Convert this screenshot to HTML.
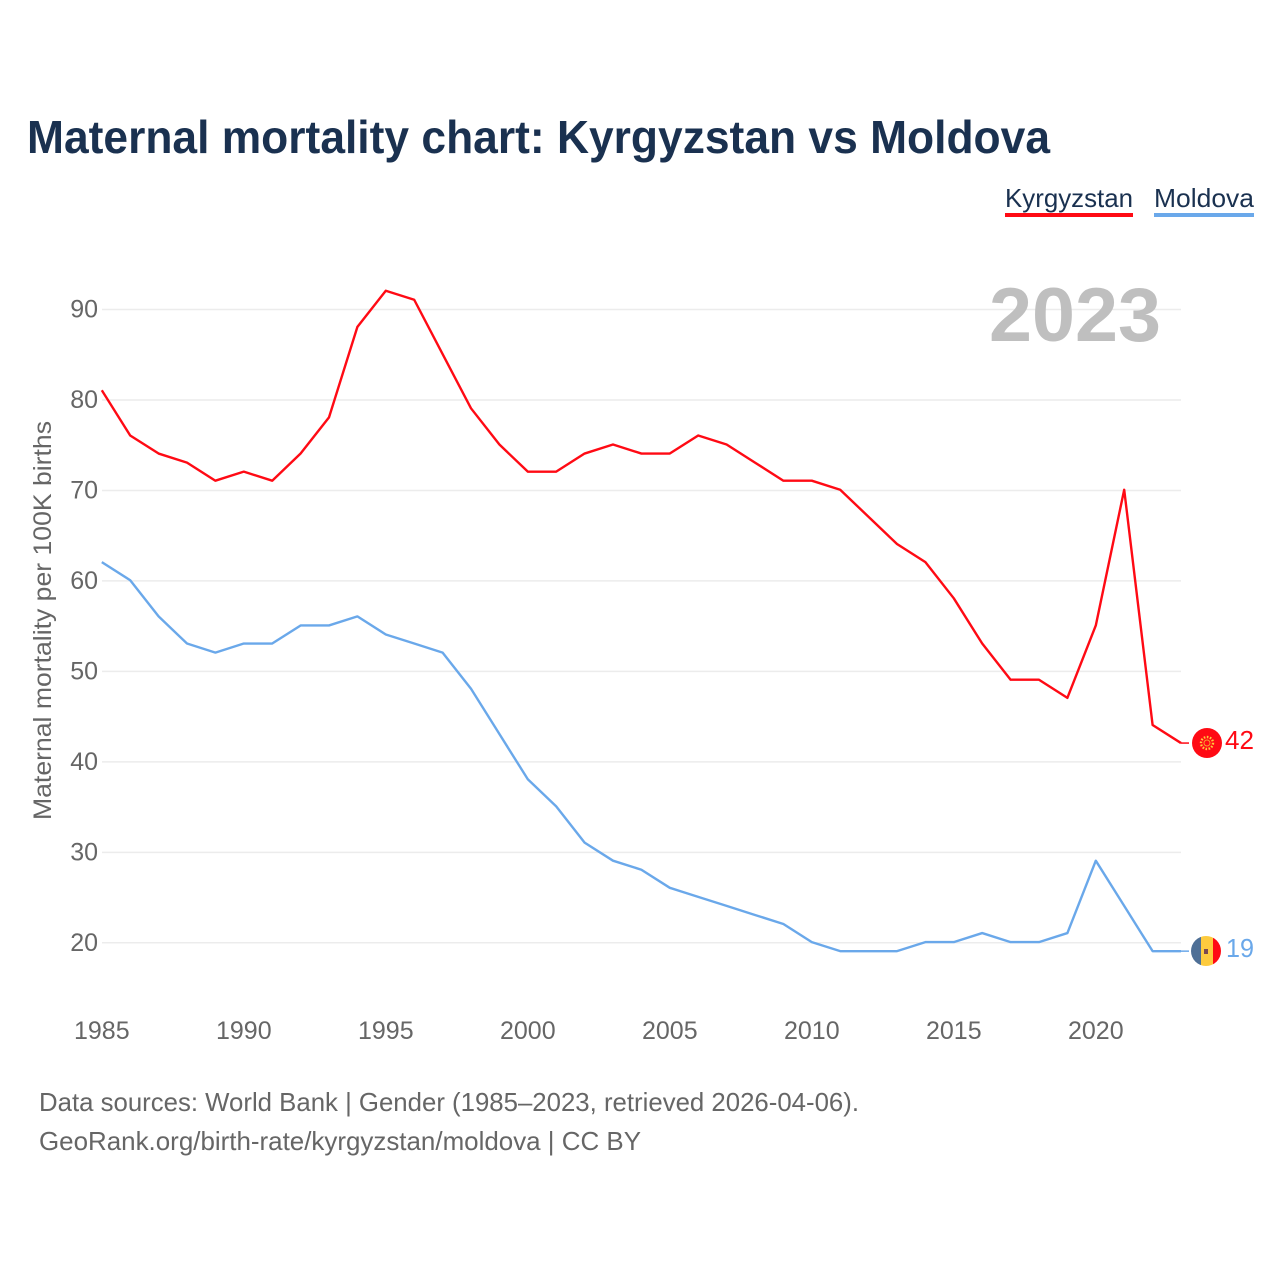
<!DOCTYPE html>
<html lang="en">
<head>
<meta charset="utf-8">
<title>Maternal mortality chart: Kyrgyzstan vs Moldova</title>
<style>
html,body{margin:0;padding:0;background:#fff}
svg{display:block}
text{font-family:"Liberation Sans",sans-serif}
</style>
</head>
<body>
<svg id="chart" width="1280" height="1280" viewBox="0 0 1280 1280" xmlns="http://www.w3.org/2000/svg">
  <rect width="1280" height="1280" fill="#fff"/>
  <text x="27" y="153" font-size="46" font-weight="700" fill="#1a3150" textLength="1023" lengthAdjust="spacingAndGlyphs">Maternal mortality chart: Kyrgyzstan vs Moldova</text>

  <g>
    <text x="1005" y="207" font-size="26" fill="#1a3150" textLength="128" lengthAdjust="spacingAndGlyphs">Kyrgyzstan</text>
    <rect x="1005" y="213" width="128" height="4" fill="#ff0a14"/>
  </g>
  <g>
    <text x="1154" y="207" font-size="26" fill="#1a3150" textLength="100" lengthAdjust="spacingAndGlyphs">Moldova</text>
    <rect x="1154" y="213" width="100" height="4" fill="#6aa8ea"/>
  </g>

  <g id="grid"></g>
  <g id="yticks"></g>
  <g id="xticks"></g>

  <text x="1161" y="341" text-anchor="end" font-size="76" font-weight="700" fill="#bfbfbf" textLength="172" lengthAdjust="spacingAndGlyphs">2023</text>

  <text transform="translate(51,820) rotate(-90)" font-size="25" fill="#666" textLength="399" lengthAdjust="spacingAndGlyphs">Maternal mortality per 100K births</text>

  <g id="series"></g>

  <g id="flag-kg">
    <circle cx="1207" cy="743" r="15" fill="#ff0a14"/>
    <circle cx="1207" cy="743" r="6" fill="none" stroke="#ffc83c" stroke-width="2.4" stroke-dasharray="1.6 1.5"/>
    <circle cx="1207" cy="743" r="3" fill="none" stroke="#f6a030" stroke-width="1"/>
  </g>
  <text id="label-kg" x="1225" y="749" font-size="26" fill="#ff0a14" textLength="29" lengthAdjust="spacingAndGlyphs">42</text>

  <g id="flag-md">
    <clipPath id="md-clip"><circle cx="1206" cy="951" r="15"/></clipPath>
    <g clip-path="url(#md-clip)">
      <rect x="1191" y="936" width="10" height="30" fill="#4e6f96"/>
      <rect x="1201" y="936" width="12" height="30" fill="#fdcb3e"/>
      <rect x="1213" y="936" width="8" height="30" fill="#ff0a14"/>
      <rect x="1204" y="949" width="4" height="5" fill="#7a4a50"/>
    </g>
  </g>
  <text id="label-md" x="1226" y="957" font-size="26" fill="#6aa8ea" textLength="28" lengthAdjust="spacingAndGlyphs">19</text>

  <text x="39" y="1111" font-size="26" fill="#666" textLength="820" lengthAdjust="spacingAndGlyphs">Data sources: World Bank | Gender (1985–2023, retrieved 2026-04-06).</text>
  <a><text x="39" y="1150" font-size="26" fill="#666" textLength="602" lengthAdjust="spacingAndGlyphs">GeoRank.org/birth-rate/kyrgyzstan/moldova | CC BY</text></a>
</svg>
<script>
const years = [1985,1986,1987,1988,1989,1990,1991,1992,1993,1994,1995,1996,1997,1998,1999,2000,2001,2002,2003,2004,2005,2006,2007,2008,2009,2010,2011,2012,2013,2014,2015,2016,2017,2018,2019,2020,2021,2022,2023];
const kyrgyzstan = [81,76,74,73,71,72,71,74,78,88,92,91,85,79,75,72,72,74,75,74,74,76,75,73,71,71,70,67,64,62,58,53,49,49,47,55,70,44,42];
const moldova = [62,60,56,53,52,53,53,55,55,56,54,53,52,48,43,38,35,31,29,28,26,25,24,23,22,20,19,19,19,20,20,21,20,20,21,29,24,19,19];
const yTickValues = [20,30,40,50,60,70,80,90];
const xTickValues = [1985,1990,1995,2000,2005,2010,2015,2020];

const NS = 'http://www.w3.org/2000/svg';
const xScale = function (year) { return 101.8 + (year - 1985) * (1181 - 101.8) / (2023 - 1985); };
const yScale = function (value) { return 942.8 - (value - 20) * (942.8 - 309.5) / 70; };
const seriesShift = -0.7;
const gridLayer = document.getElementById('grid');
const yTickLayer = document.getElementById('yticks');
const xTickLayer = document.getElementById('xticks');
const seriesLayer = document.getElementById('series');

yTickValues.forEach(function (value) {
  const line = document.createElementNS(NS, 'line');
  
  
  line.setAttribute('x1', 102);
  line.setAttribute('x2', 1181);
  line.setAttribute('y1', yScale(value));
  line.setAttribute('y2', yScale(value));
  line.setAttribute('stroke', '#ececec');
  line.setAttribute('stroke-width', '1.5');
  gridLayer.appendChild(line);

  const label = document.createElementNS(NS, 'text');
  
  
  label.setAttribute('x', 98);
  label.setAttribute('y', yScale(value) + 8);
  label.setAttribute('text-anchor', 'end');
  label.setAttribute('font-size', '25');
  label.setAttribute('fill', '#666');
  label.textContent = value;
  yTickLayer.appendChild(label);
});

xTickValues.forEach(function (year) {
  const label = document.createElementNS(NS, 'text');
  
  
  label.setAttribute('x', xScale(year));
  label.setAttribute('y', 1039);
  label.setAttribute('text-anchor', 'middle');
  label.setAttribute('font-size', '25');
  label.setAttribute('fill', '#666');
  label.textContent = year;
  xTickLayer.appendChild(label);
});

function drawSeries(values, color, name, flagId, labelId, baseValue) {
  const path = document.createElementNS(NS, 'path');
  
  
  const d = values.map(function (v, i) {
    return (i ? 'L' : 'M') + xScale(years[i]).toFixed(2) + ' ' + (yScale(v) + seriesShift).toFixed(2);
  }).join(' ');
  path.setAttribute('d', d);
  path.setAttribute('fill', 'none');
  path.setAttribute('stroke', color);
  path.setAttribute('stroke-width', '2.4');
  path.setAttribute('stroke-linejoin', 'round');
  seriesLayer.appendChild(path);

  const last = values[values.length - 1];
  const lastY = yScale(last) + seriesShift;
  const connector = document.createElementNS(NS, 'line');
  
  
  connector.setAttribute('x1', xScale(years[years.length - 1]));
  connector.setAttribute('x2', 1189);
  connector.setAttribute('y1', lastY);
  connector.setAttribute('y2', lastY);
  connector.setAttribute('stroke', color);
  connector.setAttribute('stroke-width', '1.5');
  seriesLayer.appendChild(connector);

  const delta = yScale(last) - yScale(baseValue);
  document.getElementById(flagId).setAttribute('transform', 'translate(0,' + delta + ')');
  const endLabel = document.getElementById(labelId);
  endLabel.textContent = last;
  endLabel.setAttribute('transform', 'translate(0,' + delta + ')');
}

drawSeries(kyrgyzstan, '#ff0a14', 'series-line-kyrgyzstan', 'flag-kg', 'label-kg', 42);
drawSeries(moldova, '#6aa8ea', 'series-line-moldova', 'flag-md', 'label-md', 19);
</script>
</body>
</html>
